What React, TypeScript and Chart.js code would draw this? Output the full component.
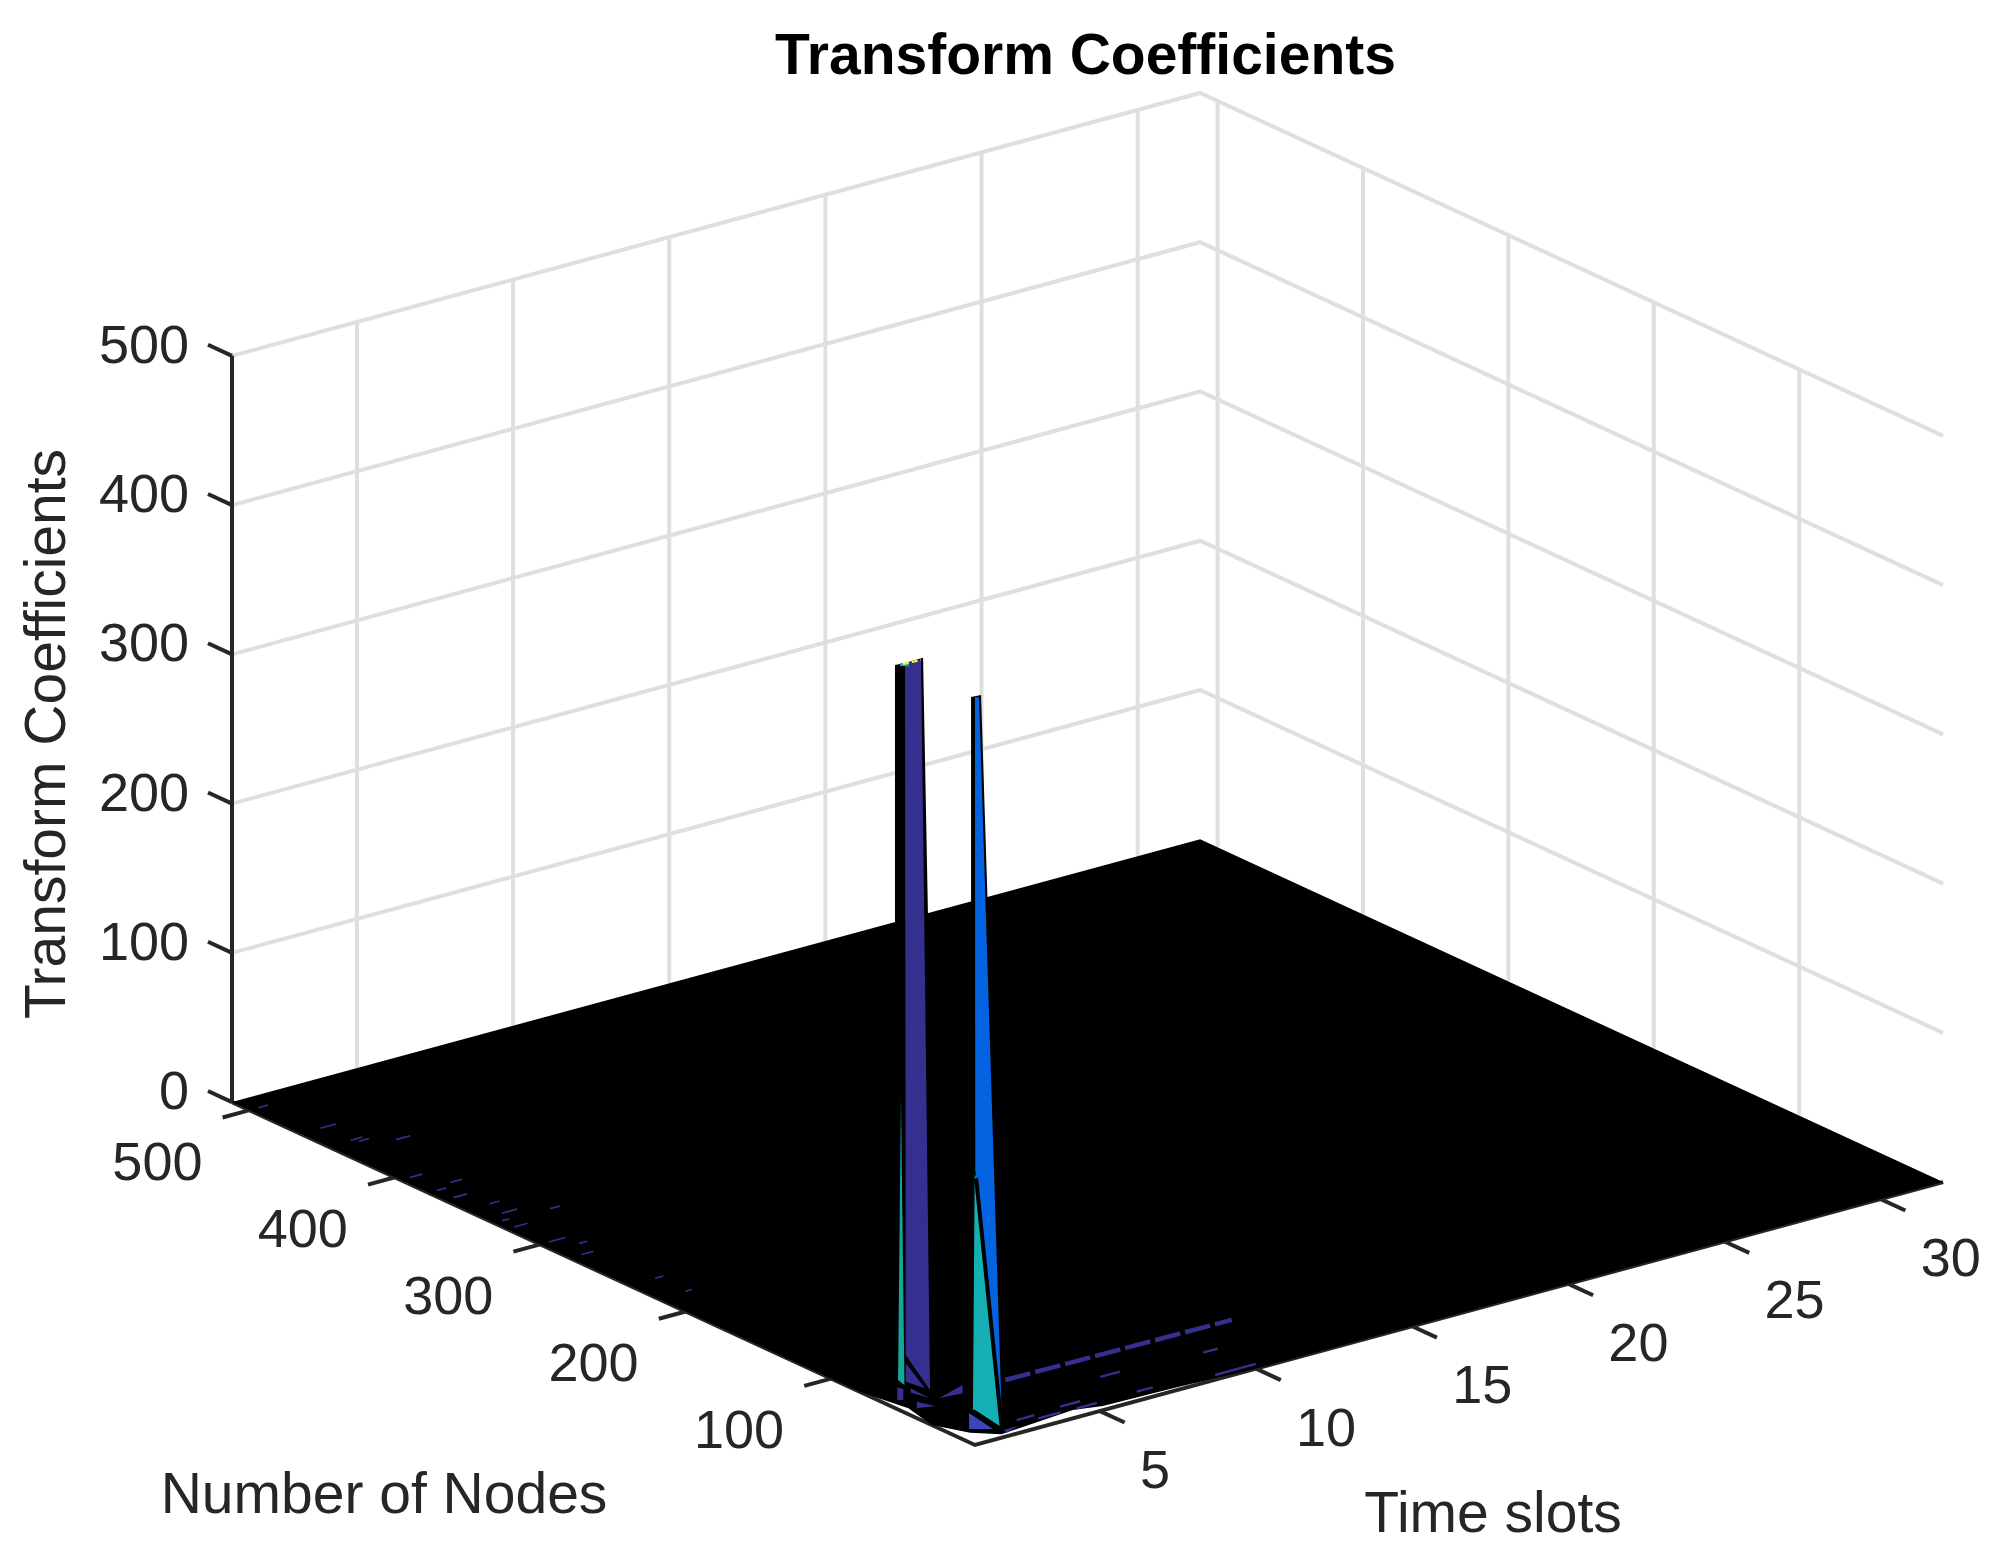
import { useEffect, useRef } from "react"
import { Chart, registerables } from "chart.js"

Chart.register(...registerables)

// axis ticks
const timeTicks = [5, 10, 15, 20, 25, 30]
const nodeTicks = [100, 200, 300, 400, 500]
const valueTicks = [0, 100, 200, 300, 400, 500]
const timeRange = [1, 32]
const nodeRange = [1, 512]

// surface outline at value 0 (the mesh is so dense it prints as solid black)
const floorTimes = [1, 32, 32, 10.02, 7.59, 5.28, 4.5, 2, 1.44, 1, 1.26, 1]
const floorNodes = [512, 512, 1, 1, 3.7, 5, 8.9, 4.3, 13.8, 30.8, 52.4, 80]

// spike faces: time, node and height of each corner
const faceTimes = [
  [2, 2, 2, 2],
  [2, 2, 2, 2],
  [2.2, 2.2, 2.2, 2.2],
  [2, 2, 2, 2],
  [2, 2, 2],
  [2.2, 2.2, 2.2, 2.2, 2.2],
  [2.2, 2.2, 2.2, 2.2],
  [2.2, 1.58, 2.06],
  [2, 2, 2],
  [2, 2, 2],
  [2.31, 3.37, 3.01],
  [1.72, 1.9, 1.43],
  [1.95, 1.99, 1.52, 1.4],
  [2.23, 2.7, 2.18],
]
const faceNodes = [
  [77.5, 70.6, 70.6, 77.5],
  [70.6, 58.2, 48.6, 70.6],
  [29.5, 22.6, 6.8, 29.5],
  [70.6, 59.6, 53.4, 70.1],
  [73.4, 71, 75.4],
  [26.8, 24, 8.2, 26, 26.6],
  [27, 26, 8.2, 28.2],
  [30.9, 17.5, 11.4],
  [70.1, 56.9, 70.1],
  [66.7, 53.4, 66.7],
  [54, 60.5, 52.7],
  [56.4, 47.8, 50.3],
  [74.9, 71.5, 61.5, 63],
  [7.8, 7.8, 4.4],
]
const faceValues = [
  [482.6, 487, 0, 0],
  [487, 496, 9.7, 0],
  [481.5, 485.9, 4, 7.2],
  [487, 493.9, 7.6, 23.5],
  [195, 3, 4.4],
  [482.7, 483.7, 3.4, 160.7, 166.3],
  [163, 160.7, 0, 3.8],
  [1.1, 0, 0],
  [18, 7.2, 5.6],
  [2.7, 2, 0],
  [0, 0, 0],
  [0, 0, 0],
  [0, 0, 0, 0],
  [0, 0, 0],
]

// thin coloured mesh cells showing through the black, along the time direction
const streakNodes = [500, 465, 446, 443, 435, 396, 377, 381, 366, 351, 339, 332, 323, 331, 300, 291, 280, 239, 219]
const streakStarts = [1.3, 1.64, 1.73, 1.85, 2.67, 1.29, 1.27, 1.9, 1.29, 1.75, 1.59, 1.27, 1.24, 2.76, 1.27, 1.83, 1.39, 1.84, 1.87]
const streakEnds = [1.6, 2.14, 2.1, 2.17, 3.12, 1.69, 1.57, 2.27, 1.73, 2.07, 2.07, 1.5, 1.66, 3.08, 1.8, 2.09, 1.77, 2.1, 2.08]

const nearNodes = [5.5, 9.8, 15.3, 9.5, 13.8, 9.9, 29.5, 33]
const nearStarts = [8.9, 6.59, 4.39, 4.65, 2.93, 3.44, 9.63, 6.5]
const nearEnds = [10.2, 7.1, 5.03, 5.3, 3.5, 4.15, 10.1, 7.13]

const ridgeTimes = [4.45, 11.64]
const ridgeNodes = [54.3, 53]

// spike 2 crease lines: node, height
const creaseNodes = [
  [26, 8.2],
  [28.2, 8.2],
]
const creaseValues = [
  [160.7, 0],
  [3.8, 0],
]

// top of the tall spike
const capNodes = [72, 59.6]
const capValues = [485.7, 493.9]
const capTealNodes = [74, 68]
const capTealValues = [484.5, 487]

const faceColours = [
  "#000000",
  "#000000",
  "#000000",
  "#352f90",
  "#12a89c",
  "#0363e1",
  "#14b0b4",
  "#3a47b8",
  "#352f90",
  "#352f90",
  "#352f90",
  "#352f90",
  "#352f90",
  "#352f90",
]

// view projection fitted to the picture
const origin = { x: 975, y: 1445 }
const perTime = { x: 31.23, y: -8.48 }
const perNode = { x: -1.454, y: -0.671 }
const perValue = -1.4925

function project(t: number, n: number, z = 0) {
  return {
    x: origin.x + perTime.x * (t - 1) + perNode.x * (n - 1),
    y: origin.y + perTime.y * (t - 1) + perNode.y * (n - 1) + perValue * z,
  }
}

const FONT = '"Liberation Sans", Arial, sans-serif'
const INK = "#262626"
const GRID = "#dfdfdf"
const RULE = 4

function buildDatasets() {
  const sets: any[] = []
  const line = (data: any[], color: string, borderWidth: number, extra = {}) =>
    sets.push({ data, borderColor: color, borderWidth, showLine: true, pointRadius: 0, ...extra })

  const [t0, t1] = timeRange
  const [n0, n1] = nodeRange

  // grid on the two back walls
  timeTicks.forEach((t) => line([project(t, n1, 0), project(t, n1, 500)], GRID, RULE))
  nodeTicks.forEach((n) => line([project(t1, n, 0), project(t1, n, 500)], GRID, RULE))
  valueTicks.slice(1).forEach((z) => line([project(t0, n1, z), project(t1, n1, z), project(t1, n0, z)], GRID, RULE))

  // axes and ticks
  line([project(t0, n1, 0), project(t0, n1, 500)], INK, RULE)
  line([project(t0, n1, 0), project(t0, n0, 0), project(t1, n0, 0)], INK, RULE)
  valueTicks.forEach((z) => line([project(t0, n1, z), project(t0, n1 + 16.5, z)], INK, RULE))
  timeTicks.forEach((t) => line([project(t, n0, 0), project(t, n0 - 17, 0)], INK, RULE))
  nodeTicks.forEach((n) => line([project(t0, n, 0), project(t0 - 0.86, n, 0)], INK, RULE))

  // surface
  sets.push({
    data: floorTimes.map((t, i) => project(t, floorNodes[i], 0)),
    faceColour: "#000000",
    pointRadius: 0,
  })
  faceTimes.forEach((times, f) => {
    sets.push({
      data: times.map((t, i) => project(t, faceNodes[f][i], faceValues[f][i])),
      faceColour: faceColours[f],
      pointRadius: 0,
    })
  })
  creaseNodes.forEach((nodes, c) => {
    line(nodes.map((n, i) => project(2.2, n, creaseValues[c][i])), "#000000", 4)
  })
  line(capTealNodes.map((n, i) => project(2, n, capTealValues[i])), "#14b0b4", 3)
  line(capNodes.map((n, i) => project(2, n, capValues[i])), "#f9fb15", 2, { borderDash: [6, 3] })

  streakNodes.forEach((n, i) => {
    line([project(streakStarts[i], n), project(streakEnds[i], n)], "#352f90", 1.6)
  })
  nearNodes.forEach((n, i) => {
    line([project(nearStarts[i], n), project(nearEnds[i], n)], "#352f90", 2.4)
  })
  line(ridgeTimes.map((t, i) => project(t, ridgeNodes[i])), "#352f90", 4.5, { borderDash: [26, 5] })

  sets.forEach((s, i) => {
    s.order = sets.length - i
  })
  return sets
}

// fills a closed dataset with its colour, the points come from the chart's scales
const facePlugin = {
  id: "faces",
  beforeDatasetDraw(chart: any, args: any) {
    const colour = chart.data.datasets[args.index].faceColour
    if (!colour) return
    const points = args.meta.data
    const ctx = chart.ctx
    ctx.save()
    ctx.beginPath()
    points.forEach((p: any, i: number) => (i ? ctx.lineTo(p.x, p.y) : ctx.moveTo(p.x, p.y)))
    ctx.closePath()
    ctx.fillStyle = colour
    ctx.fill()
    ctx.restore()
  },
}

const textPlugin = {
  id: "labels",
  afterDraw(chart: any) {
    const ctx = chart.ctx
    const x = chart.scales.x
    const y = chart.scales.y
    const put = (text: string, px: number, py: number, align: CanvasTextAlign) => {
      ctx.textAlign = align
      ctx.fillText(text, x.getPixelForValue(px), y.getPixelForValue(py))
    }
    ctx.save()
    ctx.textBaseline = "middle"
    ctx.fillStyle = INK
    ctx.font = `54px ${FONT}`
    valueTicks.forEach((z) => {
      const p = project(timeRange[0], nodeRange[1], z)
      put(String(z), 189, p.y - 8, "right")
    })
    nodeTicks.forEach((n) => {
      const p = project(timeRange[0], n)
      put(String(n), p.x - 47, p.y + 55, "right")
    })
    timeTicks.forEach((t) => {
      const p = project(t, nodeRange[0])
      put(String(t), p.x + 40, p.y + 62, "left")
    })

    ctx.font = `57px ${FONT}`
    put("Number of Nodes", 384, 1497, "center")
    put("Time slots", 1493, 1516, "center")

    ctx.save()
    ctx.translate(49, 734)
    ctx.rotate(-Math.PI / 2)
    ctx.textAlign = "center"
    ctx.fillText("Transform Coefficients", 0, 0)
    ctx.restore()

    ctx.fillStyle = "#000000"
    ctx.font = `bold 57px ${FONT}`
    put("Transform Coefficients", 1085.5, 58, "center")
    ctx.restore()
  },
}

export default function App() {
  const chartRef = useRef<HTMLCanvasElement>(null)

  useEffect(() => {
    if (!chartRef.current) return
    document.body.style.margin = "0"
    document.body.style.background = "#ffffff"

    const chart = new Chart(chartRef.current, {
      type: "scatter",
      data: { datasets: buildDatasets() },
      options: {
        responsive: false,
        animation: false,
        devicePixelRatio: 1,
        layout: { padding: 0 },
        elements: { line: { tension: 0, borderCapStyle: "butt" } },
        plugins: {
          legend: { display: false },
          tooltip: { enabled: false },
        },
        scales: {
          x: { type: "linear", min: 0, max: 2011, display: false },
          y: { type: "linear", min: 0, max: 1557, reverse: true, display: false },
        },
      },
      plugins: [facePlugin, textPlugin],
    })

    return () => chart.destroy()
  }, [])

  return <canvas ref={chartRef} width={2011} height={1557} style={{ display: "block" }} />
}
